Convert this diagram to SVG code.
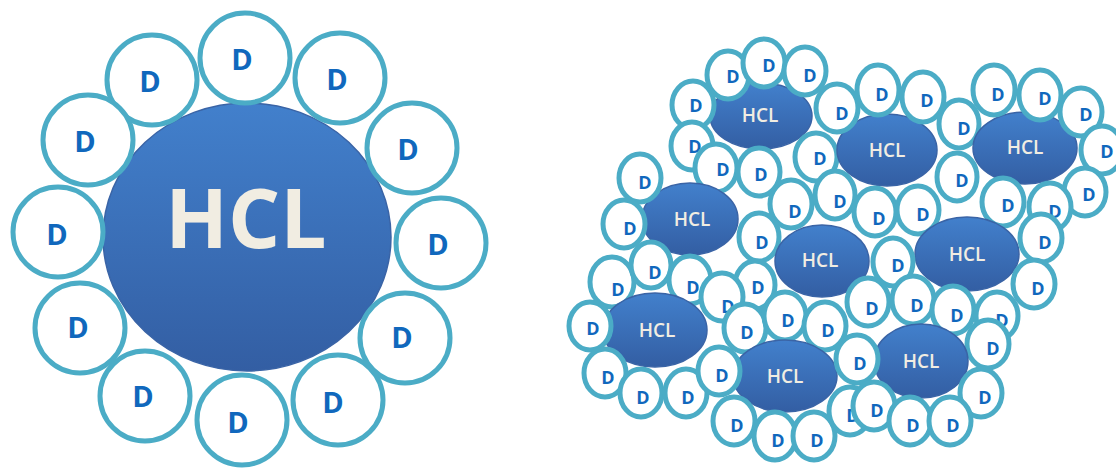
<svg xmlns="http://www.w3.org/2000/svg" width="1116" height="468" viewBox="0 0 1116 468">
  <defs>
    <linearGradient id="core" x1="0" y1="0" x2="0" y2="1">
      <stop offset="0" stop-color="#4280cc"/>
      <stop offset="1" stop-color="#335ea3"/>
    </linearGradient>
  </defs>
  <style>
    .core { fill: url(#core); stroke: #3a64a6; stroke-width: 1.5; }
    .d { fill: #ffffff; stroke: #4bacc6; stroke-width: 5; }
    .ds { fill: #ffffff; stroke: #4bacc6; stroke-width: 5; }
    .dl { font-family: "Open Sans", "Liberation Sans", sans-serif; font-weight: 700; fill: #1068bd; text-anchor: middle; }
    .big { font-size: 29px; }
    .sm { font-size: 18px; }
    .hcl { font-family: "Open Sans", "Liberation Sans", sans-serif; font-weight: 700; fill: #f1ede2; text-anchor: middle; }
    .hs { font-weight: 600; font-size: 19px; }
  </style>

  <!-- single solvated molecule -->
  <g id="single">
    <ellipse class="core" cx="247" cy="237" rx="144" ry="134"/>
    <text class="hcl" x="246" y="248" font-size="82">HCL</text>
    <g id="shell">
      <circle class="d" cx="245" cy="58" r="45"/><text class="dl big" x="242" y="70">D</text>
      <circle class="d" cx="152" cy="80" r="45"/><text class="dl big" x="150" y="92">D</text>
      <circle class="d" cx="88" cy="140" r="45"/><text class="dl big" x="85" y="152">D</text>
      <circle class="d" cx="58" cy="232" r="45"/><text class="dl big" x="57" y="245">D</text>
      <circle class="d" cx="80" cy="328" r="45"/><text class="dl big" x="78" y="338">D</text>
      <circle class="d" cx="145" cy="396" r="45"/><text class="dl big" x="143" y="407">D</text>
      <circle class="d" cx="242" cy="420" r="45"/><text class="dl big" x="238" y="433">D</text>
      <circle class="d" cx="338" cy="400" r="45"/><text class="dl big" x="333" y="413">D</text>
      <circle class="d" cx="405" cy="338" r="45"/><text class="dl big" x="402" y="348">D</text>
      <circle class="d" cx="441" cy="243" r="45"/><text class="dl big" x="438" y="255">D</text>
      <circle class="d" cx="412" cy="148" r="45"/><text class="dl big" x="408" y="160">D</text>
      <circle class="d" cx="340" cy="78" r="45"/><text class="dl big" x="337" y="90">D</text>
    </g>
  </g>

  <!-- cluster of solvated molecules -->
  <g id="cluster">
    <g id="m1">
      <ellipse class="core" cx="761" cy="116" rx="51" ry="33"/>
      <text class="hcl hs" x="760" y="122">HCL</text>
      <ellipse class="ds" cx="693" cy="105" rx="21" ry="24"/><text class="dl sm" x="696" y="112">D</text>
      <ellipse class="ds" cx="728" cy="75" rx="21" ry="24"/><text class="dl sm" x="733" y="83">D</text>
      <ellipse class="ds" cx="764" cy="63" rx="21" ry="24"/><text class="dl sm" x="769" y="72">D</text>
      <ellipse class="ds" cx="805" cy="71" rx="21" ry="24"/><text class="dl sm" x="810" y="82">D</text>
      <ellipse class="ds" cx="692" cy="146" rx="21" ry="24"/><text class="dl sm" x="695" y="153">D</text>
      <ellipse class="ds" cx="716" cy="168" rx="21" ry="24"/><text class="dl sm" x="723" y="176">D</text>
      <ellipse class="ds" cx="759" cy="172" rx="21" ry="24"/><text class="dl sm" x="761" y="181">D</text>
      <ellipse class="ds" cx="816" cy="157" rx="21" ry="24"/><text class="dl sm" x="820" y="165">D</text>
    </g>
    <g id="m2">
      <ellipse class="core" cx="887" cy="150" rx="50" ry="36"/>
      <text class="hcl hs" x="887" y="157">HCL</text>
      <ellipse class="ds" cx="837" cy="108" rx="21" ry="24"/><text class="dl sm" x="842" y="120">D</text>
      <ellipse class="ds" cx="878" cy="90" rx="21" ry="25"/><text class="dl sm" x="882" y="101">D</text>
      <ellipse class="ds" cx="923" cy="97" rx="21" ry="25"/><text class="dl sm" x="927" y="107">D</text>
      <ellipse class="ds" cx="959" cy="124" rx="20" ry="24"/><text class="dl sm" x="964" y="135">D</text>
    </g>
    <g id="m3">
      <ellipse class="core" cx="1025" cy="148" rx="52" ry="36"/>
      <text class="hcl hs" x="1025" y="154">HCL</text>
      <ellipse class="ds" cx="994" cy="90" rx="21" ry="25"/><text class="dl sm" x="998" y="101">D</text>
      <ellipse class="ds" cx="1040" cy="95" rx="21" ry="25"/><text class="dl sm" x="1045" y="105">D</text>
      <ellipse class="ds" cx="1081" cy="112" rx="21" ry="24"/><text class="dl sm" x="1086" y="121">D</text>
      <ellipse class="ds" cx="1102" cy="150" rx="21" ry="24"/><text class="dl sm" x="1107" y="158">D</text>
      <ellipse class="ds" cx="1085" cy="192" rx="21" ry="24"/><text class="dl sm" x="1089" y="201">D</text>
      <ellipse class="ds" cx="957" cy="177" rx="20" ry="24"/><text class="dl sm" x="962" y="187">D</text>
    </g>
    <g id="m4">
      <ellipse class="core" cx="690" cy="219" rx="48" ry="36"/>
      <text class="hcl hs" x="692" y="226">HCL</text>
      <ellipse class="ds" cx="640" cy="178" rx="21" ry="24"/><text class="dl sm" x="645" y="189">D</text>
      <ellipse class="ds" cx="624" cy="224" rx="21" ry="24"/><text class="dl sm" x="630" y="235">D</text>
      <ellipse class="ds" cx="791" cy="204" rx="21" ry="24"/><text class="dl sm" x="795" y="218">D</text>
      <ellipse class="ds" cx="835" cy="195" rx="20" ry="24"/><text class="dl sm" x="840" y="208">D</text>
      <ellipse class="ds" cx="759" cy="237" rx="20" ry="24"/><text class="dl sm" x="762" y="249">D</text>
    </g>
    <g id="m6">
      <ellipse class="ds" cx="1003" cy="202" rx="21" ry="24"/><text class="dl sm" x="1008" y="212">D</text>
      <ellipse class="ds" cx="1050" cy="207" rx="21" ry="24"/><text class="dl sm" x="1055" y="218">D</text>
      <ellipse class="ds" cx="875" cy="212" rx="21" ry="24"/><text class="dl sm" x="879" y="225">D</text>
      <ellipse class="ds" cx="918" cy="210" rx="21" ry="24"/><text class="dl sm" x="923" y="221">D</text>
      <ellipse class="core" cx="967" cy="254" rx="52" ry="37"/>
      <text class="hcl hs" x="967" y="261">HCL</text>
      <ellipse class="ds" cx="1041" cy="238" rx="21" ry="24"/><text class="dl sm" x="1045" y="249">D</text>
      <ellipse class="ds" cx="1034" cy="284" rx="21" ry="24"/><text class="dl sm" x="1038" y="295">D</text>
    </g>
    <g id="m5">
      <ellipse class="core" cx="822" cy="261" rx="47" ry="36"/>
      <text class="hcl hs" x="820" y="267">HCL</text>
      <ellipse class="ds" cx="893" cy="262" rx="20" ry="24"/><text class="dl sm" x="898" y="272">D</text>
      <ellipse class="ds" cx="755" cy="285" rx="20" ry="24"/><text class="dl sm" x="758" y="294">D</text>
    </g>
    <g id="m7">
      <ellipse class="ds" cx="612" cy="282" rx="22" ry="25"/><text class="dl sm" x="618" y="296">D</text>
      <ellipse class="ds" cx="651" cy="265" rx="20" ry="23"/><text class="dl sm" x="655" y="279">D</text>
      <ellipse class="ds" cx="690" cy="280" rx="21" ry="24"/><text class="dl sm" x="693" y="294">D</text>
      <ellipse class="core" cx="655" cy="330" rx="52" ry="37"/>
      <text class="hcl hs" x="657" y="337">HCL</text>
      <ellipse class="ds" cx="722" cy="297" rx="21" ry="24"/><text class="dl sm" x="728" y="313">D</text>
      <ellipse class="ds" cx="590" cy="326" rx="21" ry="24"/><text class="dl sm" x="593" y="335">D</text>
      <ellipse class="ds" cx="605" cy="373" rx="21" ry="24"/><text class="dl sm" x="608" y="384">D</text>
      <ellipse class="ds" cx="641" cy="393" rx="21" ry="24"/><text class="dl sm" x="643" y="404">D</text>
      <ellipse class="ds" cx="686" cy="393" rx="21" ry="24"/><text class="dl sm" x="688" y="404">D</text>
    </g>
    <g id="m8">
      <ellipse class="ds" cx="745" cy="328" rx="21" ry="24"/><text class="dl sm" x="747" y="339">D</text>
      <ellipse class="ds" cx="785" cy="316" rx="21" ry="24"/><text class="dl sm" x="788" y="327">D</text>
      <ellipse class="ds" cx="825" cy="326" rx="21" ry="24"/><text class="dl sm" x="828" y="337">D</text>
      <ellipse class="core" cx="785" cy="376" rx="52" ry="36"/>
      <text class="hcl hs" x="785" y="383">HCL</text>
      <ellipse class="ds" cx="719" cy="371" rx="21" ry="24"/><text class="dl sm" x="722" y="382">D</text>
      <ellipse class="ds" cx="734" cy="421" rx="21" ry="24"/><text class="dl sm" x="737" y="432">D</text>
      <ellipse class="ds" cx="775" cy="436" rx="21" ry="24"/><text class="dl sm" x="778" y="447">D</text>
      <ellipse class="ds" cx="814" cy="436" rx="21" ry="24"/><text class="dl sm" x="817" y="447">D</text>
      <ellipse class="ds" cx="850" cy="411" rx="21" ry="24"/><text class="dl sm" x="853" y="422">D</text>
    </g>
    <g id="m9">
      <ellipse class="ds" cx="868" cy="302" rx="21" ry="24"/><text class="dl sm" x="872" y="315">D</text>
      <ellipse class="ds" cx="913" cy="300" rx="21" ry="24"/><text class="dl sm" x="917" y="312">D</text>
      <ellipse class="ds" cx="953" cy="310" rx="21" ry="24"/><text class="dl sm" x="957" y="322">D</text>
      <ellipse class="ds" cx="997" cy="316" rx="21" ry="24"/><text class="dl sm" x="1002" y="327">D</text>
      <ellipse class="ds" cx="988" cy="344" rx="21" ry="24"/><text class="dl sm" x="993" y="355">D</text>
      <ellipse class="core" cx="921" cy="361" rx="47" ry="37"/>
      <text class="hcl hs" x="921" y="368">HCL</text>
      <ellipse class="ds" cx="857" cy="359" rx="21" ry="24"/><text class="dl sm" x="860" y="370">D</text>
      <ellipse class="ds" cx="981" cy="393" rx="21" ry="24"/><text class="dl sm" x="985" y="404">D</text>
      <ellipse class="ds" cx="874" cy="406" rx="21" ry="24"/><text class="dl sm" x="877" y="417">D</text>
      <ellipse class="ds" cx="910" cy="421" rx="21" ry="24"/><text class="dl sm" x="913" y="432">D</text>
      <ellipse class="ds" cx="950" cy="421" rx="21" ry="24"/><text class="dl sm" x="953" y="432">D</text>
    </g>
  </g>
</svg>
